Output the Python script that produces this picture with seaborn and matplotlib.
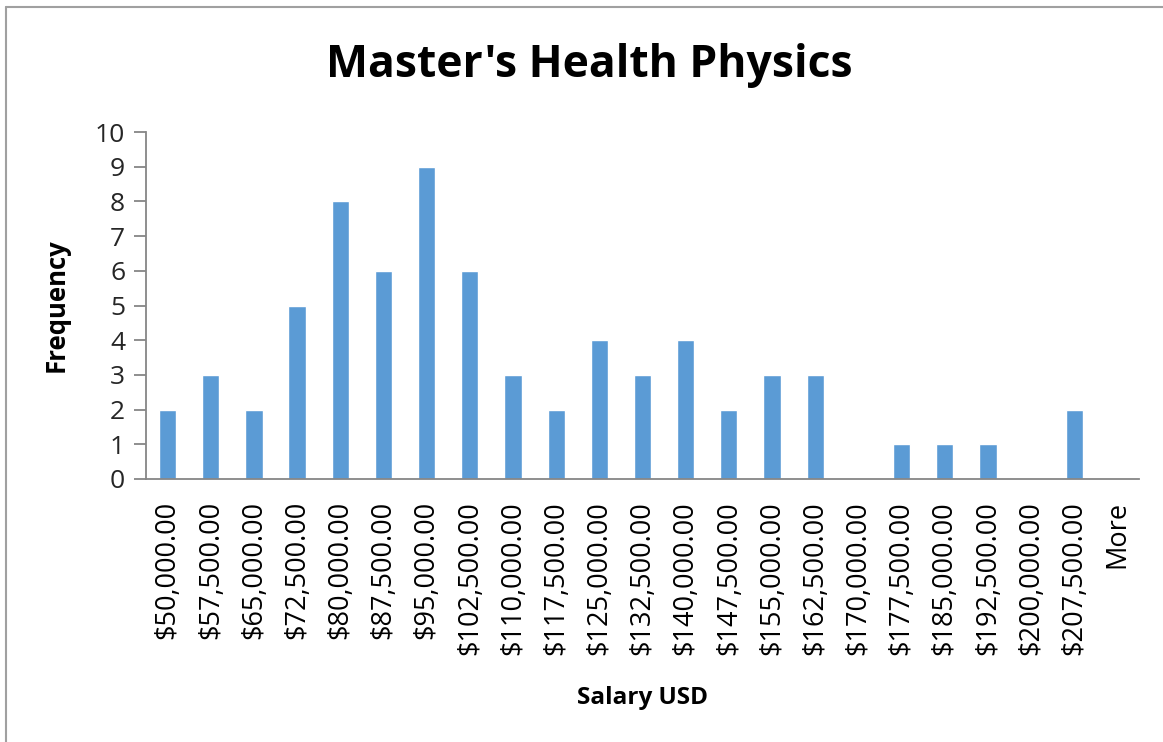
import pandas as pd
import seaborn as sns
import matplotlib.pyplot as plt
from matplotlib.lines import Line2D

# histogram bins and counts
bins = ['$50,000.00', '$57,500.00', '$65,000.00', '$72,500.00', '$80,000.00',
        '$87,500.00', '$95,000.00', '$102,500.00', '$110,000.00', '$117,500.00',
        '$125,000.00', '$132,500.00', '$140,000.00', '$147,500.00', '$155,000.00',
        '$162,500.00', '$170,000.00', '$177,500.00', '$185,000.00', '$192,500.00',
        '$200,000.00', '$207,500.00', 'More']
frequency = [2, 3, 2, 5, 8, 6, 9, 6, 3, 2, 4, 3, 4, 2, 3, 3, 0, 1, 1, 1, 0, 2, 0]
y_ticks = list(range(0, 11))

data = pd.DataFrame({'Bin': bins, 'Frequency': frequency})

sns.set_style('white')
plt.rcParams['font.family'] = ['Open Sans', 'DejaVu Sans']

W, H = 1163, 742
fig = plt.figure(figsize=(W / 100, H / 100), dpi=100)
ax = fig.add_axes([146 / W, 1 - 479 / H, (1139 - 146) / W, (479 - 132) / H])

sns.barplot(data=data, x='Bin', y='Frequency', color='#5B9BD5', saturation=1,
            width=0.4, ax=ax)

grey = '#868686'
ax.set_xlim(-0.5, len(bins) - 0.5)
ax.set_ylim(0, 10)
ax.set_yticks(y_ticks)
ax.set_yticklabels([str(t) for t in y_ticks], fontsize=19, color='#262626')

# ticks at bin boundaries, labels at bin centers
ax.set_xticks([i - 0.5 for i in range(len(bins) + 1)])
ax.set_xticklabels([])
ax.set_xticks(range(len(bins)), minor=True)
ax.set_xticklabels(bins, minor=True, rotation=90, fontsize=19.5, color='black')
ax.tick_params(axis='x', which='major', length=10, width=1.3, color=grey, direction='out')
ax.tick_params(axis='x', which='minor', length=0, pad=16)
ax.tick_params(axis='y', length=9, width=1.3, color=grey, direction='out', left=True, pad=6)

sns.despine(ax=ax)
for side in ['left', 'bottom']:
    ax.spines[side].set_color(grey)
    ax.spines[side].set_linewidth(1.3)

ax.set_xlabel('Salary USD', fontsize=17.5, fontweight='bold', color='black', labelpad=22)
ax.set_ylabel('Frequency', fontsize=18.5, fontweight='bold', color='black', labelpad=18)
fig.text(0.507, 1 - 66 / H, "Master's Health Physics", fontsize=32, fontweight='bold',
         color='black', ha='center', va='center')

# chart frame (only top and left edges visible)
fig.add_artist(Line2D([6 / W, 1], [1 - 7 / H, 1 - 7 / H], color='#a0a0a0', lw=1.5,
                      transform=fig.transFigure))
fig.add_artist(Line2D([6 / W, 6 / W], [0, 1 - 7 / H], color='#a0a0a0', lw=1.5,
                      transform=fig.transFigure))

fig.savefig('out.png', dpi=100)
